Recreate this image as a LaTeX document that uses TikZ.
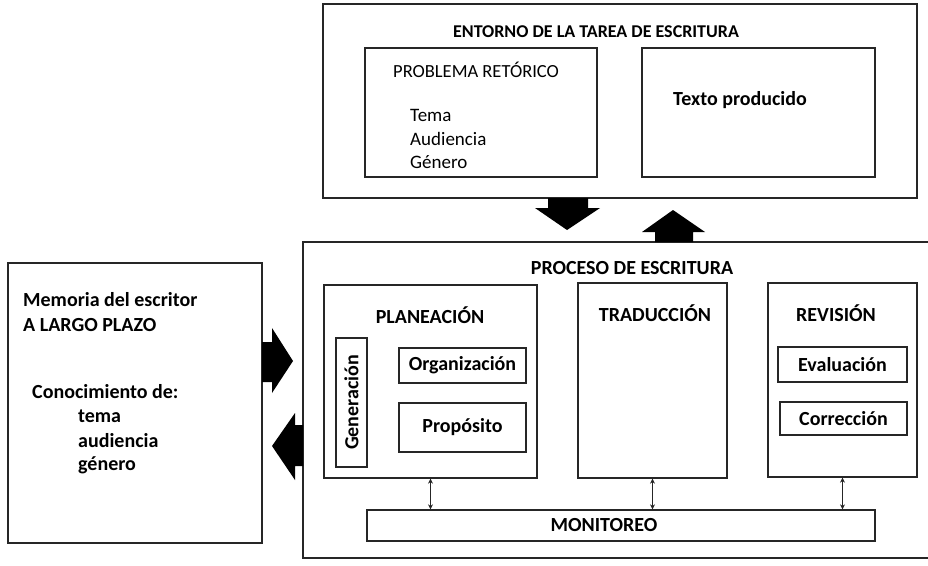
\documentclass[tikz,border=0pt]{standalone}
\usepackage{fontspec}
\setmainfont{Carlito}
\usetikzlibrary{arrows.meta}
\usetikzlibrary{positioning}
\tikzset{box/.style = {draw=black!85, line width=1.3pt, inner sep=0, minimum width=#1}}
\tikzset{lbl/.style = {font=\fontsize{20}{24}\selectfont\bfseries, inner sep=0}}
\tikzset{plain/.style = {font=\fontsize{19}{23}\selectfont, inner sep=0}}
\tikzset{link/.style = {<->, >={Stealth[length=5pt, width=5pt]}, line width=1.3pt, black!85}}

\begin{document}
\begin{tikzpicture}[x=1pt, y=-1pt]
      \clip (0, 0) rectangle (928, 565);

      % task environment
      \node [box=594, minimum height=194] (env) at (620, 101) {};
      \node [box=232, minimum height=129] (prob) at (481, 112.5) {};
      \node [box=233, minimum height=129] (txt) at (758.5, 112.5) {};
      \node [lbl, font=\fontsize{18}{22}\selectfont\bfseries] (envt) at (596, 32) {ENTORNO DE LA TAREA DE ESCRITURA};
      \node [plain, font=\fontsize{18.5}{22}\selectfont, anchor=west] (probt) at (393, 70) {PROBLEMA RETÓRICO};
      \node [plain, anchor=west] (tema) at (410, 115) {Tema};
      \node [plain, anchor=west] (aud) at (410, 138.5) {Audiencia};
      \node [plain, anchor=west] (gen) at (410, 162) {Género};
      \node [lbl] (txtt) at (740, 100) {Texto producido};

      % long term memory
      \node [box=254, minimum height=280] (mem) at (135, 403) {};
      \node [lbl, anchor=west] (memt) at (23, 300) {Memoria del escritor};
      \node [lbl, anchor=west] (memp) at (23, 325) {A LARGO PLAZO};
      \node [lbl, anchor=west] (con) at (32, 392) {Conocimiento de:};
      \node [lbl, anchor=west] (ctema) at (78, 416) {tema};
      \node [lbl, anchor=west] (caud) at (78, 440.5) {audiencia};
      \node [lbl, anchor=west] (cgen) at (78, 465) {género};

      % writing process
      \node [box=637, minimum height=316] (proc) at (621.5, 400) {};
      \node [lbl] (proct) at (632, 268) {PROCESO DE ESCRITURA};

      \node [box=213, minimum height=193] (plan) at (430.5, 381.5) {};
      \node [box=149, minimum height=195] (trad) at (652.5, 380.5) {};
      \node [box=149, minimum height=194] (rev) at (842.5, 380) {};

      \node [lbl] (plant) at (430, 315) {PLANEACIÓN};
      \node [lbl] (tradt) at (655, 313) {TRADUCCIÓN};
      \node [lbl] (revt) at (836, 313) {REVISIÓN};

      \node [box=31, minimum height=129] (genb) at (351.5, 402.5) {};
      \node [lbl, rotate=90] at (genb) {Generación};
      \node [box=127, minimum height=35] (org) at (462.5, 365.5) {\fontsize{20}{24}\selectfont\bfseries Organización};
      \node [box=127, minimum height=49] (prop) at (462.5, 427.5) {\fontsize{20}{24}\selectfont\bfseries Propósito};
      \node [box=129, minimum height=35] (eval) at (842.5, 364.5) {\fontsize{20}{24}\selectfont\bfseries Evaluación};
      \node [box=127, minimum height=33] (corr) at (843.5, 418.5) {\fontsize{20}{24}\selectfont\bfseries Corrección};

      \node [box=508, minimum height=31] (mon) at (621, 525.5) {};
      \node [lbl] (mont) at (604, 525) {MONITOREO};

      \draw [link] (plan.south) -- (plan.south |- mon.north);
      \draw [link] (trad.south) -- (trad.south |- mon.north);
      \draw [link] (rev.south) -- (rev.south |- mon.north);

      % block arrows
      \fill (548, 198) -- (588, 198) -- (588, 208) -- (600, 208) -- (567, 230)
            -- (535, 208) -- (548, 208) -- cycle;
      \fill (655, 242) -- (693, 242) -- (693, 232) -- (705, 232) -- (673, 210)
            -- (642, 232) -- (655, 232) -- cycle;
      \fill (262, 342) -- (272, 342) -- (272, 328) -- (293, 361) -- (272, 393)
            -- (272, 382) -- (262, 382) -- cycle;
      \fill (303, 425) -- (295, 425) -- (295, 413) -- (272, 446) -- (295, 480)
            -- (295, 466) -- (303, 466) -- cycle;
    \end{tikzpicture}
\end{document}
